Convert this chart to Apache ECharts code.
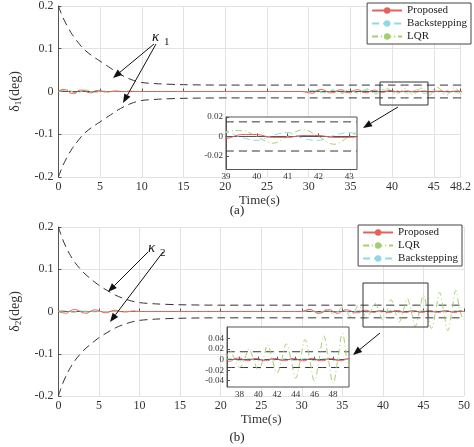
<!DOCTYPE html>
<html><head><meta charset="utf-8">
<script src="https://cdn.jsdelivr.net/npm/echarts@6/dist/echarts.min.js"></script>
<style>html,body{margin:0;padding:0;background:#fff}#c{width:474px;height:447px}</style>
</head><body><div id="c"></div>
<script>
// time sampled every 0.5 s, 0..50
const STEP = 0.5;
const boundT = [0,0.5,1,1.5,2,3,4,5,6,7,8,9,10,12,15,20,30,40,50];
const bound1 = [0.2,0.175,0.155,0.138,0.124,0.1,0.084,0.071,0.058,0.045,0.034,0.026,0.021,0.018,0.016,0.015,0.015,0.015,0.015];
const bound2 = [0.2,0.172,0.15,0.132,0.117,0.094,0.077,0.062,0.05,0.039,0.031,0.025,0.021,0.018,0.016,0.015,0.015,0.015,0.015];
const prop1 = [
0,.005,.003,-.004,-.004,.003,.003,-.002,-.003,.002,
.002,-.001,-.001,.001,.001,0,0,.001,0,0,
0,0,0,0,0,0,0,0,0,0, 0,0,0,0,0,0,0,0,0,0, 0,0,0,0,0,0,0,0,0,0,
0,0,0,0,0,0,0,0,0,-.001,
-.003,-.004,.002,.005,.002,-.003,-.003,.003,.004,-.002,
-.003,.003,.004,-.002,-.003,.002,.003,-.001,-.002,.002,
.002,-.001,-.001,.001,.001,-.001,-.001,.001,.001,-.001,
-.001,.001,.001,-.001,-.001,.001,.001,-.001,-.001,.001,0];
const back1 = [
0,.002,.004,.001,-.003,-.002,.002,.003,-.001,-.002,
.001,.001,-.001,0,.001,0,0,0,0,0,
0,0,0,0,0,0,0,0,0,0, 0,0,0,0,0,0,0,0,0,0, 0,0,0,0,0,0,0,0,0,0,
0,0,0,0,0,0,0,0,0,0,
.001,.003,.001,-.003,-.002,.003,.003,-.002,-.003,.002,
.003,-.002,-.003,.003,.003,-.002,-.003,.003,.004,-.001,
-.004,.001,.004,-.002,-.004,.001,.004,-.002,-.004,.001,
.004,-.001,-.004,.002,.004,-.001,-.004,.002,.004,-.001,0];
const lqr1 = [
0,.003,.005,.001,-.003,-.002,.003,.003,-.001,-.002,
.001,.001,-.001,0,.001,0,0,0,0,0,
0,0,0,0,0,0,0,0,0,0, 0,0,0,0,0,0,0,0,0,0, 0,0,0,0,0,0,0,0,0,0,
0,0,0,0,0,0,0,0,0,0,
0,.002,.003,0,-.003,0,.004,0,-.004,0,
.005,0,-.005,0,.006,0,-.006,0,.005,.006,
0,-.007,0,.007,0,-.008,0,.008,0,-.008,
0,.009,0,-.009,0,.009,0,-.01,0,.01,0];
const prop2 = [
0,-.003,-.004,.002,.005,.002,-.003,-.004,.001,.004,
.002,-.002,-.003,.001,.003,.001,-.001,-.001,.001,.001,
0,0,0,0,0,0,0,0,0,0, 0,0,0,0,0,0,0,0,0,0, 0,0,0,0,0,0,0,0,0,0,
0,0,0,0,0,0,0,0,0,0,
0,.003,.005,.001,-.004,-.003,.003,.004,-.002,-.004,
.001,.004,.002,-.003,-.003,.002,.003,-.001,-.002,.002,
.002,-.002,-.002,.002,.002,-.002,-.002,.002,.002,-.002,
-.002,.002,.002,-.002,-.002,.002,.002,-.002,-.002,.002,0];
const lqr2 = [
0,.002,.001,-.002,-.001,.002,.001,-.001,0,.001,
0,0,0,0,0,0,0,0,0,0,
0,0,0,0,0,0,0,0,0,0, 0,0,0,0,0,0,0,0,0,0, 0,0,0,0,0,0,0,0,0,0,
0,0,0,0,0,0,0,0,0,0,
0,.002,.004,0,-.004,0,.005,0,-.008,0,
.01,0,-.012,0,.015,0,-.015,0,.02,0,
-.02,0,.028,0,-.025,0,.03,0,-.035,0,
.038,0,-.04,0,.045,0,-.045,0,.05,0,-.02];
const back2 = [
0,.001,.002,0,-.002,-.001,.001,.001,0,-.001,
0,0,0,0,0,0,0,0,0,0,
0,0,0,0,0,0,0,0,0,0, 0,0,0,0,0,0,0,0,0,0, 0,0,0,0,0,0,0,0,0,0,
0,0,0,0,0,0,0,0,0,0,
0,.001,.002,0,-.002,0,.002,0,-.002,0,
.002,0,-.002,0,.002,0,-.002,0,.002,0,
-.002,0,.002,0,-.002,0,.002,0,-.002,0,
.002,0,-.002,0,.002,0,-.002,0,.002,0,0];
const xTicksA = [39,40,41,42,43];
const yTicksA = [-0.02,0,0.02];
const xTicksB = [38,40,42,44,46,48];
const yTicksB = [-0.04,-0.02,0,0.02,0.04];

const pairs = a => a.map((v,i)=>[i*STEP,v]);
const bpairs = (b,s) => boundT.map((t,i)=>[t,s*b[i]]);
const F = 'Liberation Serif';
const RED='#e8605a', CY='#8fd8e6', GR='#a5cf6e';
const sty = {
  Proposed:{color:RED,type:'solid',width:1},
  Backstepping:{color:CY,type:[7,4],width:1},
  LQR:{color:GR,type:[6,3,1,3],width:1}
};
function ser(name,data,idx,z){
  return {type:'line',name,data,xAxisIndex:idx,yAxisIndex:idx,symbol:'none',showSymbol:false,smooth:0.4,
    lineStyle:sty[name],itemStyle:{color:sty[name].color},z:z||2,silent:true,animation:false};
}
function bser(data,idx,z){
  return {type:'line',data,xAxisIndex:idx,yAxisIndex:idx,symbol:'none',showSymbol:false,smooth:0.3,
    lineStyle:{color:'#333',type:[8,5],width:1},z:z||2,silent:true,animation:false};
}
function restrict(d,a,b){return d.filter(p=>p[0]>=a-0.5&&p[0]<=b+0.5);}
const hline = (v,a,b)=>[[a,v],[b,v]];

const axLbl = {fontFamily:F,fontSize:12,color:'#333'};
const mainX = (g,max)=>({type:'value',gridIndex:g,min:0,max,interval:5,name:'Time(s)',nameLocation:'middle',nameGap:16,
  nameTextStyle:{fontFamily:F,fontSize:13,color:'#333'},axisLabel:Object.assign({margin:4},axLbl),
  axisLine:{lineStyle:{color:'#555'}},axisTick:{inside:true,length:3},splitLine:{show:true,lineStyle:{color:'#e3e3e3'}}});
const mainY = (g,n)=>({type:'value',gridIndex:g,min:-0.2,max:0.2,interval:0.1,name:'{a|δ}{s|'+n+'}{a|(deg)}',nameLocation:'middle',nameGap:25,
  nameTextStyle:{rich:{a:{fontFamily:F,fontSize:14,color:'#333'},s:{fontFamily:F,fontSize:9,color:'#333',verticalAlign:'bottom',padding:[8,0,0,0]}}},
  axisLabel:Object.assign({margin:5,formatter:v=>v===0?'0':String(+v.toFixed(1))},axLbl),
  axisLine:{lineStyle:{color:'#555'}},axisTick:{inside:true,length:3},splitLine:{show:true,lineStyle:{color:'#e3e3e3'}}});
const inX = (g,min,max,ticks)=>({type:'value',gridIndex:g,min,max,z:12,axisLabel:{customValues:ticks,fontFamily:F,fontSize:9,color:'#333',margin:3},
  axisTick:{customValues:ticks,inside:true,length:3},axisLine:{lineStyle:{color:'#555'}},splitLine:{show:false}});
const inY = (g,min,max,ticks)=>({type:'value',gridIndex:g,min,max,z:12,axisLabel:{customValues:ticks,fontFamily:F,fontSize:9,color:'#333',margin:3,formatter:v=>Math.abs(v)<1e-9?'0':String(+v.toFixed(2))},
  axisTick:{customValues:ticks,inside:true,length:3},axisLine:{lineStyle:{color:'#555'}},splitLine:{show:false}});

function arrow(x1,y1,x2,y2){
  const a=Math.atan2(y2-y1,x2-x1),L=9,W=3.5;
  const bx=x2-L*Math.cos(a),by=y2-L*Math.sin(a);
  return [
    {type:'line',shape:{x1,y1,x2:bx,y2:by},style:{stroke:'#111',lineWidth:1},z:20},
    {type:'polygon',shape:{points:[[x2,y2],[bx-W*Math.sin(a),by+W*Math.cos(a)],[bx+W*Math.sin(a),by-W*Math.cos(a)]]},style:{fill:'#111'},z:20}
  ];
}
const legendBase = {orient:'vertical',backgroundColor:'#fff',borderColor:'#444',borderWidth:1,borderRadius:0,padding:[2,4,2,4],
  itemWidth:30,itemHeight:8,itemGap:2,textStyle:{fontFamily:F,fontSize:11,color:'#222'},selectedMode:false,z:20};

const option = {
  animation:false,
  grid:[
    {left:40,right:3,top:5,height:172,show:false},
    {left:37,right:10,top:227,height:169,show:false},
    {left:226,width:131,top:117,height:52.5,show:true,backgroundColor:'#fff',borderColor:'#555',z:10},
    {left:227,width:122,top:327,height:60,show:true,backgroundColor:'#fff',borderColor:'#555',z:10}
  ],
  xAxis:[mainX(0,48.2),mainX(1,50),inX(2,39,43.25,xTicksA),inX(3,36.65,49.7,xTicksB)],
  yAxis:[mainY(0,1),mainY(1,2),inY(2,-0.034,0.02,yTicksA),inY(3,-0.052,0.062,yTicksB)],
  legend:[
    Object.assign({},legendBase,{right:3,top:3,data:['Proposed','Backstepping','LQR']}),
    Object.assign({},legendBase,{right:12,top:225,data:['Proposed','LQR','Backstepping']})
  ],
  series:[
    bser(bpairs(bound1,1),0), bser(bpairs(bound1,-1),0),
    ser('Backstepping',pairs(back1),0), ser('LQR',pairs(lqr1),0), ser('Proposed',pairs(prop1),0),
    bser(bpairs(bound2,1),1), bser(bpairs(bound2,-1),1),
    ser('Backstepping',pairs(back2),1), ser('LQR',pairs(lqr2),1), ser('Proposed',pairs(prop2),1),
    bser(hline(0.015,39,43.25),2,12), bser(hline(-0.015,39,43.25),2,12),
    ser('Backstepping',restrict(pairs(back1),39,43.25),2,12), ser('LQR',restrict(pairs(lqr1),39,43.25),2,12), ser('Proposed',restrict(pairs(prop1),39,43.25),2,12),
    bser(hline(0.015,36.65,49.7),3,12), bser(hline(-0.015,36.65,49.7),3,12),
    ser('Backstepping',restrict(pairs(back2),36.65,49.7),3,12), ser('LQR',restrict(pairs(lqr2),36.65,49.7),3,12), ser('Proposed',restrict(pairs(prop2),36.65,49.7),3,12)
  ].map(s=>Object.assign(s,{clip:true})),
  graphic:[
    {type:'rect',shape:{x:380,y:82,width:48,height:23},style:{fill:'none',stroke:'#333',lineWidth:1},z:15},
    {type:'rect',shape:{x:363,y:283,width:65,height:44},style:{fill:'none',stroke:'#333',lineWidth:1},z:15},
    {type:'text',x:152,y:30,style:{text:'κ',font:'italic 15px "Liberation Serif"',fill:'#111'},z:20},
    {type:'text',x:164,y:37,style:{text:'1',font:'11px "Liberation Serif"',fill:'#111'},z:20},
    {type:'text',x:148,y:241,style:{text:'κ',font:'italic 15px "Liberation Serif"',fill:'#111'},z:20},
    {type:'text',x:160,y:248,style:{text:'2',font:'11px "Liberation Serif"',fill:'#111'},z:20},
    ...arrow(154,44,113,78), ...arrow(156,44,123,103), ...arrow(398,107,363,128),
    ...arrow(148,252,108,292), ...arrow(163,252,110,322), ...arrow(380,333,353,355),
    {type:'text',x:237,y:204,style:{text:'(a)',font:'13px "Liberation Serif"',fill:'#222',textAlign:'center'},z:20},
    {type:'text',x:237,y:431,style:{text:'(b)',font:'13px "Liberation Serif"',fill:'#222',textAlign:'center'},z:20}
  ]
};
echarts.init(document.getElementById('c')).setOption(option);
</script></body></html>
